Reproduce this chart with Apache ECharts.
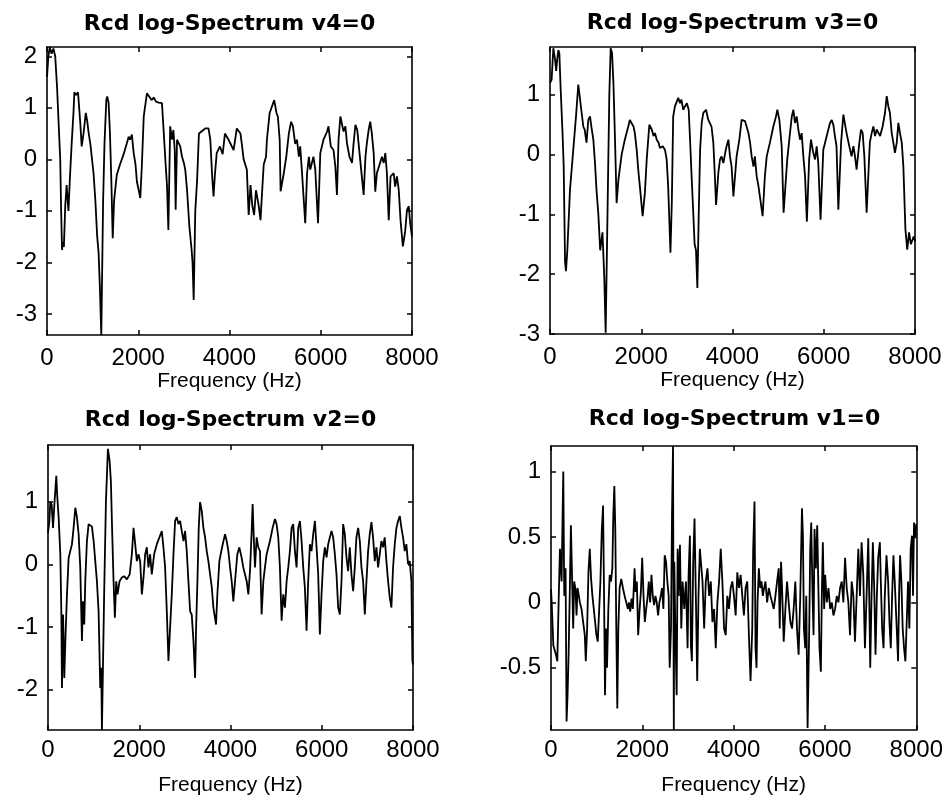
<!DOCTYPE html>
<html>
<head>
<meta charset="utf-8">
<title>Rcd log-Spectrum</title>
<script src="https://cdn.jsdelivr.net/npm/echarts@6/dist/echarts.min.js"></script>
<style>
  html, body { margin: 0; padding: 0; background: #fff; }
  #chart { width: 946px; height: 802px; }
</style>
</head>
<body>
<div id="chart"></div>
<script>
// titles of the four panels
var titles = ["Rcd log-Spectrum v4=0", "Rcd log-Spectrum v3=0", "Rcd log-Spectrum v2=0", "Rcd log-Spectrum v1=0"];
var freqTicks = [0, 2000, 4000, 6000, 8000];

// y ranges (axis tight) and tick labels
var yRangeV4 = [-3.41, 2.18];
var yTicksV4 = [-3, -2, -1, 0, 1, 2];
var yRangeV3 = [-3, 1.8];
var yTicksV3 = [-3, -2, -1, 0, 1];
var yRangeV2 = [-2.64, 1.9];
var yTicksV2 = [-2, -1, 0, 1];
var yRangeV1 = [-0.975, 1.195];
var yTicksV1 = [-0.5, 0, 0.5, 1];

// [frequency Hz, log-spectrum]
var specV4 = [[0,1.6],[30,2.0],[60,2.18],[100,2.05],[140,2.15],[180,2.0],[220,1.41],[260,0.6],[290,0.0],[310,-1.0],[330,-1.76],[350,-1.6],[370,-1.7],[400,-0.9],[430,-0.5],[470,-1.0],[500,-0.4],[540,0.3],[580,0.9],[600,1.3],[640,1.25],[680,1.3],[700,1.28],[730,0.7],[760,0.25],[800,0.5],[850,0.9],[880,0.75],[915,0.5],[950,0.3],[1020,-0.27],[1060,-0.8],[1100,-1.5],[1130,-1.8],[1160,-2.5],[1190,-3.41],[1230,-0.8],[1260,0.3],[1300,1.15],[1320,1.22],[1350,1.1],[1380,0.5],[1410,-0.4],[1440,-1.53],[1470,-0.8],[1530,-0.3],[1600,-0.1],[1680,0.1],[1750,0.31],[1790,0.44],[1820,0.38],[1860,0.48],[1900,0.12],[1940,-0.1],[1970,-0.43],[2045,-0.75],[2080,-0.1],[2120,0.83],[2190,1.28],[2240,1.22],[2290,1.15],[2340,1.2],[2390,1.12],[2450,1.1],[2520,1.09],[2560,0.5],[2600,-0.1],[2630,-0.5],[2660,-1.37],[2700,0.64],[2740,0.38],[2770,0.57],[2800,0.18],[2820,-0.98],[2850,0.38],[2920,0.25],[2960,0.05],[3000,-0.07],[3030,-0.2],[3070,-0.6],[3120,-1.3],[3170,-1.76],[3190,-2.0],[3215,-2.73],[3250,-1.0],[3290,-0.4],[3330,0.5],[3400,0.55],[3470,0.6],[3540,0.6],[3580,0.38],[3620,-0.33],[3650,-0.72],[3680,-0.3],[3720,0.12],[3790,0.25],[3850,0.1],[3900,0.5],[3980,0.38],[4090,0.18],[4160,0.6],[4240,0.5],[4270,0.3],[4310,0.0],[4380,-0.2],[4420,-1.08],[4460,-0.5],[4500,-0.9],[4540,-1.08],[4580,-0.6],[4640,-0.9],[4680,-1.18],[4710,-0.7],[4750,-0.1],[4800,0.05],[4820,0.38],[4880,0.9],[4980,1.15],[5030,0.9],[5060,0.83],[5100,0.38],[5120,-0.62],[5190,-0.27],[5245,0.05],[5300,0.5],[5350,0.73],[5390,0.64],[5440,0.3],[5480,0.38],[5520,0.05],[5550,0.25],[5590,-0.27],[5660,-1.24],[5700,-0.27],[5740,0.05],[5770,-0.2],[5840,0.05],[5880,-0.2],[5940,-1.24],[5990,0.12],[6060,0.38],[6140,0.54],[6170,0.64],[6220,0.25],[6280,0.18],[6320,-0.14],[6355,-0.69],[6390,0.38],[6430,0.83],[6470,0.8],[6500,0.54],[6540,0.64],[6575,0.31],[6630,0.05],[6685,-0.07],[6720,0.31],[6760,0.67],[6800,0.57],[6850,0.12],[6900,-0.33],[6940,-0.69],[6980,0.05],[7010,0.31],[7050,0.57],[7085,0.73],[7120,0.5],[7160,0.12],[7195,-0.63],[7230,-0.27],[7300,-0.07],[7340,0.05],[7380,-0.07],[7415,0.12],[7450,-0.27],[7490,-1.18],[7530,-0.33],[7600,-0.27],[7630,-0.53],[7670,-0.33],[7710,-0.6],[7750,-1.2],[7800,-1.69],[7850,-1.4],[7890,-0.98],[7930,-0.91],[7960,-1.24],[8000,-1.5]];

var specV3 = [[0,1.2],[35,1.25],[73,1.78],[110,1.6],[135,1.4],[160,1.6],[183,1.75],[205,1.7],[234,1.09],[275,0.36],[300,-0.2],[330,-1.8],[350,-1.95],[380,-1.6],[438,-0.59],[510,0.08],[570,0.64],[620,1.17],[660,1.14],[694,0.7],[730,0.47],[760,0.42],[800,0.2],[840,0.58],[877,0.64],[910,0.45],[950,0.25],[986,-0.14],[1020,-0.6],[1060,-1.0],[1100,-1.6],[1150,-1.3],[1190,-2.06],[1220,-2.98],[1260,-1.0],[1300,1.0],[1330,1.78],[1360,1.7],[1390,1.2],[1425,0.25],[1460,-0.81],[1500,-0.42],[1570,0.0],[1640,0.25],[1715,0.47],[1750,0.58],[1790,0.61],[1830,0.47],[1860,0.36],[1900,0.08],[1940,-0.3],[1970,-0.53],[2030,-1.03],[2080,-0.64],[2120,-0.08],[2177,0.5],[2230,0.42],[2270,0.31],[2300,0.36],[2340,0.25],[2380,0.2],[2410,0.11],[2470,0.14],[2520,0.08],[2557,-0.08],[2590,-0.53],[2640,-1.64],[2670,-0.8],[2700,0.64],[2740,0.81],[2810,0.95],[2850,0.86],[2880,0.92],[2920,0.75],[2960,0.81],[3000,0.86],[3040,0.75],[3070,0.25],[3100,-0.3],[3130,-0.8],[3170,-1.5],[3200,-1.6],[3230,-2.23],[3260,-1.0],[3290,0.08],[3325,0.53],[3360,0.7],[3420,0.75],[3470,0.58],[3540,0.47],[3580,0.2],[3610,-0.3],[3640,-0.84],[3690,-0.3],[3726,-0.08],[3760,-0.03],[3800,-0.14],[3840,0.03],[3870,0.14],[3910,0.25],[3945,-0.03],[3980,-0.2],[4020,-0.7],[4090,-0.03],[4150,0.25],[4200,0.58],[4240,0.61],[4275,0.56],[4310,0.58],[4350,0.36],[4385,0.2],[4420,-0.03],[4460,-0.2],[4490,-0.03],[4530,-0.36],[4570,-0.53],[4660,-1.03],[4710,-0.36],[4750,-0.03],[4820,0.2],[4895,0.47],[4954,0.64],[4983,0.75],[5027,0.58],[5078,0.14],[5120,-0.97],[5200,-0.08],[5260,0.36],[5300,0.64],[5334,0.75],[5370,0.53],[5407,0.64],[5443,0.42],[5480,0.25],[5516,0.36],[5553,-0.03],[5590,-0.36],[5630,-1.12],[5680,-0.08],[5720,0.25],[5770,0.03],[5810,-0.08],[5845,0.14],[5880,-0.14],[5930,-1.09],[5990,0.08],[6065,0.31],[6137,0.53],[6175,0.58],[6210,0.5],[6245,0.31],[6280,0.14],[6320,-0.92],[6380,0.2],[6430,0.67],[6465,0.64],[6500,0.36],[6560,0.14],[6610,-0.03],[6650,0.14],[6685,-0.03],[6720,-0.25],[6780,0.2],[6817,0.42],[6853,0.36],[6890,-0.03],[6940,-0.97],[7010,0.2],[7050,0.36],[7087,0.47],[7125,0.31],[7160,0.42],[7235,0.31],[7290,0.47],[7343,0.7],[7380,0.98],[7415,0.81],[7450,0.7],[7490,0.36],[7525,0.2],[7560,0.03],[7600,0.2],[7635,0.53],[7670,0.36],[7710,0.2],[7745,-0.2],[7790,-1.25],[7830,-1.59],[7870,-1.3],[7910,-1.5],[7970,-1.37],[8000,-1.45]];

var specV2 = [[0,0.5],[30,0.69],[51,1.0],[80,0.95],[110,0.58],[140,0.96],[160,1.17],[182,1.41],[200,1.12],[233,0.75],[270,0.16],[292,-0.75],[306,-1.97],[330,-0.8],[357,-1.81],[385,-1.12],[416,-0.48],[452,0.1],[488,0.21],[525,0.32],[561,0.58],[598,0.9],[634,0.75],[671,0.48],[707,-0.05],[744,-1.22],[766,-0.59],[795,-0.96],[817,-0.27],[853,0.37],[890,0.64],[926,0.67],[963,0.6],[1000,0.37],[1036,0.05],[1072,-0.27],[1109,-0.75],[1145,-1.97],[1167,-1.65],[1182,-2.64],[1230,-0.5],[1270,1.0],[1313,1.84],[1350,1.65],[1378,1.33],[1408,0.48],[1437,-0.27],[1466,-0.85],[1495,-0.27],[1524,-0.48],[1568,-0.27],[1620,-0.21],[1670,-0.19],[1729,-0.24],[1790,-0.16],[1838,0.16],[1875,0.58],[1911,0.32],[1947,0.05],[1984,0.16],[2020,0.05],[2057,-0.48],[2093,-0.21],[2130,0.16],[2166,0.27],[2202,-0.05],[2238,0.16],[2275,-0.16],[2326,0.16],[2385,0.32],[2443,0.43],[2494,0.53],[2530,0.27],[2567,-0.05],[2604,-0.75],[2640,-1.54],[2676,-1.01],[2713,-0.48],[2750,0.16],[2786,0.69],[2822,0.75],[2860,0.64],[2896,0.69],[2932,0.53],[2970,0.37],[3005,0.53],[3041,0.21],[3078,-0.27],[3115,-0.75],[3150,-0.8],[3188,-1.22],[3224,-1.81],[3246,-1.01],[3275,-0.27],[3304,0.58],[3333,0.99],[3370,0.85],[3406,0.58],[3443,0.43],[3479,0.21],[3515,0.05],[3552,0.05],[3590,-0.37],[3625,-0.69],[3683,-0.96],[3712,-0.48],[3756,0.05],[3785,0.16],[3830,0.32],[3880,0.48],[3917,0.37],[3953,0.21],[3990,-0.05],[4026,-0.27],[4062,-0.59],[4099,-0.27],[4150,0.16],[4194,0.27],[4245,0.1],[4280,-0.05],[4355,-0.27],[4391,-0.48],[4428,-0.1],[4464,0.53],[4485,0.96],[4515,0.32],[4537,-0.05],[4573,0.43],[4610,0.27],[4646,0.21],[4682,-0.8],[4720,-0.27],[4755,-0.05],[4792,0.16],[4865,0.37],[4923,0.58],[4974,0.72],[5010,0.64],[5047,0.43],[5083,-0.05],[5120,-0.9],[5156,-0.48],[5193,-0.69],[5230,-0.27],[5266,-0.05],[5302,0.21],[5339,0.58],[5375,0.64],[5412,0.21],[5448,-0.05],[5485,0.58],[5521,0.69],[5558,0.37],[5594,-0.05],[5630,-0.37],[5667,-1.06],[5703,-0.27],[5740,0.32],[5776,0.21],[5813,0.48],[5850,0.69],[5886,0.27],[5922,-0.16],[5959,-1.12],[5995,-0.48],[6032,0.05],[6068,0.27],[6105,0.11],[6141,0.32],[6178,0.43],[6214,0.53],[6250,0.43],[6287,0.16],[6323,-0.16],[6360,-0.69],[6396,-0.8],[6433,-0.27],[6469,0.64],[6505,0.48],[6542,0.11],[6578,-0.11],[6615,0.27],[6651,-0.16],[6688,-0.43],[6724,-0.05],[6760,0.43],[6798,0.58],[6834,0.37],[6870,-0.05],[6907,-0.27],[6944,-0.8],[6980,-0.27],[7016,0.21],[7052,0.48],[7089,0.67],[7125,0.43],[7162,0.05],[7198,0.27],[7235,-0.05],[7271,0.16],[7308,0.37],[7344,0.27],[7380,0.43],[7417,0.05],[7454,-0.27],[7491,-0.53],[7527,-0.69],[7563,-0.05],[7600,0.32],[7637,0.58],[7673,0.69],[7710,0.77],[7746,0.58],[7782,0.43],[7819,0.21],[7855,0.32],[7892,0],[7928,0.05],[7965,-0.27],[7987,-1.54],[8000,-1.6]];

var specV1 = [[0,0.1],[15,0.0],[51,-0.33],[109,-0.4],[138,-0.45],[167,0.0],[196,0.41],[232,0.16],[269,1.0],[290,0.05],[319,0.26],[341,-0.91],[363,-0.71],[385,-0.4],[414,0.13],[436,0.59],[457,0.26],[486,-0.2],[508,0.16],[537,0.1],[559,-0.1],[581,0.11],[610,0.05],[632,0.0],[668,-0.05],[704,-0.15],[740,-0.25],[762,-0.45],[791,-0.2],[820,0.23],[849,0.41],[878,0.18],[907,0.05],[937,-0.05],[966,-0.15],[995,-0.25],[1024,-0.3],[1053,-0.07],[1082,0.16],[1111,0.54],[1140,0.74],[1162,0.05],[1183,-0.71],[1205,-0.2],[1227,-0.5],[1256,-0.05],[1285,0.21],[1314,0.16],[1343,0.26],[1365,0.67],[1387,0.89],[1408,0.56],[1430,-0.2],[1452,-0.81],[1474,-0.2],[1503,0.11],[1539,0.18],[1575,0.11],[1612,0.05],[1648,0.0],[1684,-0.05],[1706,0.0],[1735,-0.07],[1764,0.03],[1793,-0.05],[1830,0.26],[1851,0.08],[1880,0.16],[1909,-0.25],[1938,-0.07],[1968,0.08],[1997,0.34],[2026,0.05],[2055,-0.15],[2084,-0.05],[2113,0.03],[2142,0.16],[2171,0.0],[2200,0.21],[2229,0.05],[2258,-0.02],[2287,0.05],[2316,0.0],[2345,-0.1],[2374,0.0],[2403,0.05],[2432,0.11],[2461,-0.05],[2490,0.36],[2519,0.31],[2548,0.16],[2577,0.05],[2599,-0.5],[2628,-0.2],[2650,0.67],[2672,1.195],[2690,-0.975],[2700,0.31],[2723,-0.2],[2752,-0.71],[2773,0.41],[2795,0.05],[2824,0.44],[2853,-0.2],[2882,0.16],[2919,-0.05],[2955,0.16],[2991,-0.35],[3013,0.21],[3042,0.51],[3064,-0.33],[3085,-0.45],[3114,0.31],[3143,0.64],[3172,0.05],[3202,-0.6],[3230,0.05],[3260,0.41],[3281,0.41],[3318,0.16],[3354,-0.2],[3390,0.16],[3427,0.26],[3463,0.05],[3500,0.16],[3535,-0.15],[3572,-0.05],[3608,-0.35],[3644,0.0],[3681,0.16],[3717,0.41],[3753,0.16],[3790,-0.2],[3826,-0.25],[3862,0.05],[3898,-0.05],[3935,0.11],[3971,0.16],[4007,0.05],[4044,-0.1],[4080,0.23],[4116,0.11],[4153,0.21],[4189,0.05],[4225,-0.1],[4261,0.11],[4298,0.16],[4334,-0.25],[4370,-0.6],[4407,-0.2],[4428,0.41],[4457,0.77],[4479,-0.35],[4501,-0.5],[4523,0.0],[4552,0.26],[4581,0.11],[4610,0.16],[4639,0.05],[4668,0.11],[4697,0.16],[4733,0.0],[4770,0.11],[4806,0.05],[4842,0.0],[4878,-0.05],[4915,0.05],[4951,0.16],[4987,0.26],[5009,-0.2],[5038,0.31],[5060,0.11],[5096,-0.3],[5133,-0.05],[5169,0.16],[5205,0.0],[5242,-0.15],[5278,-0.2],[5314,-0.05],[5350,0.16],[5387,-0.2],[5423,-0.4],[5459,0.05],[5496,0.72],[5517,0.51],[5539,-0.2],[5568,-0.35],[5590,0.05],[5619,-0.96],[5655,-0.2],[5677,0.41],[5699,0.61],[5728,0.05],[5750,-0.25],[5771,0.56],[5800,0.26],[5830,0.59],[5859,0.05],[5880,-0.35],[5910,-0.53],[5931,0.05],[5953,0.46],[5982,-0.05],[6004,0.21],[6040,0.0],[6077,0.11],[6113,-0.05],[6149,0.0],[6185,-0.1],[6222,-0.05],[6258,0.05],[6294,0.0],[6331,0.11],[6367,0.16],[6403,0.0],[6440,0.34],[6476,0.11],[6512,0.0],[6548,-0.25],[6585,0.16],[6621,0.05],[6657,-0.3],[6694,0.05],[6730,0.41],[6766,0.05],[6802,0.46],[6839,0.21],[6875,-0.35],[6911,0.05],[6948,0.49],[6969,0.05],[6991,-0.5],[7020,0.05],[7049,0.46],[7078,0.11],[7107,-0.4],[7136,0.05],[7165,0.34],[7202,0.46],[7223,0.16],[7252,-0.2],[7282,-0.35],[7310,0.05],[7347,0.36],[7383,0.16],[7412,-0.15],[7441,-0.35],[7470,0.05],[7499,0.36],[7528,0.16],[7565,-0.15],[7601,-0.45],[7623,0.05],[7645,0.36],[7673,0.16],[7702,-0.2],[7732,-0.35],[7761,-0.45],[7790,-0.15],[7819,0.16],[7848,-0.2],[7877,0.41],[7906,0.51],[7928,0.05],[7950,0.61],[7978,0.49],[8000,0.6]];

(function() {
  var myChart = echarts.init(document.getElementById("chart"));

  // 4 subplots, MATLAB subplot(2,2,k) layout
  var panels = [
    { left: 47, top: 47, width: 365, height: 288, data: specV4, yRange: yRangeV4, yTicks: yTicksV4, title: titles[0], titleY: 24, labelGap: 11, nameGap: 35 },
    { left: 550, top: 47, width: 365, height: 287, data: specV3, yRange: yRangeV3, yTicks: yTicksV3, title: titles[1], titleY: 23, labelGap: 11, nameGap: 35 },
    { left: 48, top: 445, width: 365, height: 285, data: specV2, yRange: yRangeV2, yTicks: yTicksV2, title: titles[2], titleY: 420, labelGap: 8, nameGap: 45 },
    { left: 551, top: 446, width: 367, height: 284, data: specV1, yRange: yRangeV1, yTicks: yTicksV1, title: titles[3], titleY: 419, labelGap: 8, nameGap: 45 }
  ];

  var black = "#000";
  var lineAxis = { onZero: false, lineStyle: { color: black, width: 1.6 } };
  var tick = { inside: true, length: 5, lineStyle: { color: black, width: 1.5 } };
  var tickFont = { color: black, fontSize: 24, fontFamily: "Liberation Sans, Arial, sans-serif" };
  // plain numbers, no thousands separator (8000 not 8,000)
  var plain = function(v) { return String(v); };

  var option = {
    backgroundColor: "#fff",
    animation: false,
    grid: [],
    xAxis: [],
    yAxis: [],
    series: [],
    graphic: []
  };

  panels.forEach(function(p, i) {
    option.grid.push({ left: p.left, top: p.top, width: p.width, height: p.height });

    option.xAxis.push({
      type: "value", gridIndex: i, position: "bottom",
      min: freqTicks[0], max: freqTicks[freqTicks.length - 1], interval: 2000,
      name: "Frequency (Hz)", nameLocation: "middle", nameGap: p.nameGap,
      nameTextStyle: { color: black, fontSize: 21, fontFamily: "Liberation Sans, Arial, sans-serif" },
      axisLine: lineAxis, axisTick: tick,
      axisLabel: Object.assign({ margin: p.labelGap, showMinLabel: true, showMaxLabel: true, formatter: plain }, tickFont),
      splitLine: { show: false }
    });
    // box: top side
    option.xAxis.push({
      type: "value", gridIndex: i, position: "top",
      min: freqTicks[0], max: freqTicks[freqTicks.length - 1], interval: 2000,
      axisLine: lineAxis, axisTick: tick, axisLabel: { show: false }, splitLine: { show: false }
    });

    option.yAxis.push({
      type: "value", gridIndex: i, position: "left",
      min: p.yRange[0], max: p.yRange[1],
      axisLine: lineAxis,
      axisTick: Object.assign({ customValues: p.yTicks }, tick),
      axisLabel: Object.assign({ margin: 10, customValues: p.yTicks, formatter: plain }, tickFont),
      splitLine: { show: false }
    });
    // box: right side
    option.yAxis.push({
      type: "value", gridIndex: i, position: "right",
      min: p.yRange[0], max: p.yRange[1],
      axisLine: lineAxis,
      axisTick: Object.assign({ customValues: p.yTicks }, tick),
      axisLabel: { show: false }, splitLine: { show: false }
    });

    option.series.push({
      type: "line",
      xAxisIndex: 2 * i,
      yAxisIndex: 2 * i,
      data: p.data,
      symbol: "none",
      lineStyle: { color: black, width: 1.8 },
      clip: true
    });

    option.graphic.push({
      type: "text",
      x: p.left + p.width / 2,
      y: p.titleY,
      style: {
        text: p.title,
        font: "bold 22px 'DejaVu Sans'",
        fill: black,
        textAlign: "center",
        textVerticalAlign: "middle",
        align: "center",
        verticalAlign: "middle"
      }
    });
  });

  myChart.setOption(option);
  window.addEventListener("resize", function() {
    myChart.resize();
  });
})();
</script>
</body>
</html>
